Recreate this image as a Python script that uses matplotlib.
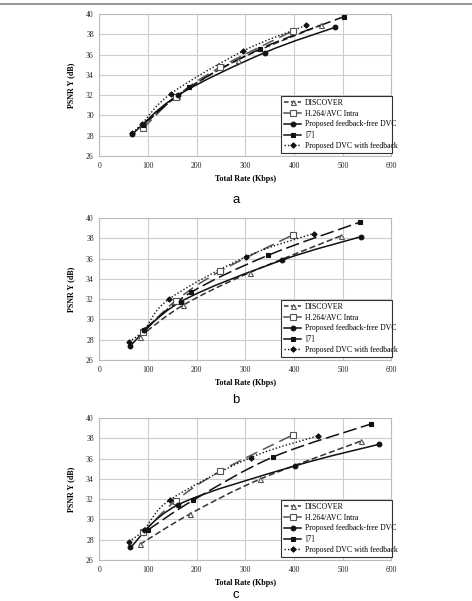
import matplotlib
matplotlib.use("Agg")
import matplotlib.pyplot as plt
from matplotlib.path import Path
from matplotlib.patches import PathPatch
from matplotlib.lines import Line2D

# rate (Kbps) / PSNR Y (dB) (a, b, c)
h264_rate = [90, 157, 248, 397]
h264_psnr = [28.72, 31.85, 34.75, 38.32]

disc_rate = {"a": [88, 160, 285, 455], "b": [83, 172, 309, 497], "c": [83, 187, 330, 537]}
disc_psnr = {"a": [28.9, 31.9, 35.5, 38.9], "b": [28.3, 31.4, 34.62, 38.25], "c": [27.53, 30.56, 33.97, 37.72]}

ffree_rate = {"a": [68, 162, 340, 485], "b": [63, 167, 375, 537], "c": [64, 162, 402, 574]}
ffree_psnr = {"a": [28.15, 32.0, 36.2, 38.7], "b": [27.4, 31.74, 35.84, 38.15], "c": [27.24, 31.45, 35.28, 37.4]}

ref7_rate = {"a": [90, 185, 330, 502], "b": [92, 188, 347, 535], "c": [99, 193, 357, 558]}
ref7_psnr = {"a": [29.1, 32.77, 36.55, 39.73], "b": [29.0, 32.66, 36.33, 39.58], "c": [28.93, 31.9, 36.16, 39.41]}

fb_rate = {"a": [68, 87, 147, 295, 425], "b": [61, 92, 143, 302, 440], "c": [61, 92, 146, 311, 450]}
fb_psnr = {"a": [28.3, 29.15, 32.15, 36.35, 38.88], "b": [27.8, 28.95, 32.0, 36.2, 38.47], "c": [27.8, 29.0, 31.96, 36.1, 38.25]}

labels = ["DISCOVER", "H.264/AVC Intra", "Proposed feedback-free DVC", "[7]",
          "Proposed DVC with feedback"]
panels = ["a", "b", "c"]
xticks = [0, 100, 200, 300, 400, 500, 600]
yticks = [26, 28, 30, 32, 34, 36, 38, 40]

serif = "Liberation Serif"

# style per series: (line color, linestyle, lw, marker, marker size, face, edge)
styles = [
    ("#333333", (0, (4, 2)), 1.1, "^", 3.6, "white", "#555555"),
    ("#555555", (0, (8, 4)), 1.1, "s", 4.2, "white", "#555555"),
    ("#111111", "-", 1.1, "o", 3.4, "#111111", "#111111"),
    ("#111111", (0, (9, 3)), 1.1, "s", 3.2, "#111111", "#111111"),
    ("#111111", (0, (1, 1.5)), 1.0, "D", 2.7, "#111111", "#111111"),
]


def smooth_path(xs, ys):
    # Excel-like smoothed line: Catmull-Rom as cubic Bezier segments
    pts = list(zip(xs, ys))
    n = len(pts)
    verts = [pts[0]]
    codes = [Path.MOVETO]
    for i in range(n - 1):
        p0 = pts[max(i - 1, 0)]
        p1 = pts[i]
        p2 = pts[i + 1]
        p3 = pts[min(i + 2, n - 1)]
        c1 = (p1[0] + (p2[0] - p0[0]) / 6, p1[1] + (p2[1] - p0[1]) / 6)
        c2 = (p2[0] - (p3[0] - p1[0]) / 6, p2[1] - (p3[1] - p1[1]) / 6)
        verts += [c1, c2, p2]
        codes += [Path.CURVE4] * 3
    return Path(verts, codes)


fig = plt.figure(figsize=(4.72, 6.01), dpi=100)
fig.add_artist(Line2D([0, 1], [0.9935, 0.9935], color="#999999", lw=1.5))

bottoms = [0.7404, 0.401, 0.0682]
letter_y = [0.663, 0.3295, 0.0055]

for k, p in enumerate(panels):
    ax = fig.add_axes([0.2104, bottoms[k], 0.619, 0.2363])
    series = [
        (disc_rate[p], disc_psnr[p]),
        (h264_rate, h264_psnr),
        (ffree_rate[p], ffree_psnr[p]),
        (ref7_rate[p], ref7_psnr[p]),
        (fb_rate[p], fb_psnr[p]),
    ]
    handles = []
    for (xs, ys), st, lab in zip(series, styles, labels):
        col, ls, lw, mk, ms, fc, ec = st
        patch = PathPatch(smooth_path(xs, ys), fill=False, edgecolor=col,
                          lw=lw, linestyle=ls, zorder=3)
        ax.add_patch(patch)
        ax.plot(xs, ys, linestyle="none", marker=mk, ms=ms, mfc=fc, mec=ec,
                mew=0.8, zorder=4)
        leg_ls = ls if mk == "D" else ("-" if mk != "^" else (0, (3, 1.5)))
        handles.append(Line2D([], [], color=col, lw=lw, linestyle=leg_ls,
                              marker=mk, ms=ms, mfc=fc, mec=ec, mew=0.8))

    ax.set_xlim(0, 600)
    ax.set_ylim(26, 40)
    ax.set_xticks(xticks)
    ax.set_yticks(yticks)
    ax.grid(True, color="#cccccc", lw=0.8)
    ax.set_axisbelow(True)
    for s in ax.spines.values():
        s.set_color("#bbbbbb")
        s.set_linewidth(0.8)
    ax.tick_params(length=0, pad=4, labelsize=5.5, labelcolor="#222222")
    for t in ax.get_xticklabels() + ax.get_yticklabels():
        t.set_fontfamily(serif)
    ax.set_xlabel("Total Rate (Kbps)", fontfamily=serif, fontweight="bold",
                  fontsize=5.8, labelpad=4)
    ax.set_ylabel("PSNR Y (dB)", fontfamily=serif, fontweight="bold",
                  fontsize=5.8, labelpad=8)

    leg = ax.legend(handles, labels, loc="lower left",
                    bbox_to_anchor=(0.622, 0.02, 0.38, 0.4), mode="expand",
                    borderaxespad=0,
                    prop={"family": serif, "size": 5.6}, handlelength=2.2,
                    handletextpad=0.5, labelspacing=0.36, borderpad=0.4,
                    fancybox=False, framealpha=1, edgecolor="#333333")
    leg.get_frame().set_linewidth(0.8)

    fig.text(0.5, letter_y[k], p, ha="center", va="baseline",
             fontfamily="Liberation Sans", fontsize=9.5)

fig.savefig("out.png", dpi=100)
